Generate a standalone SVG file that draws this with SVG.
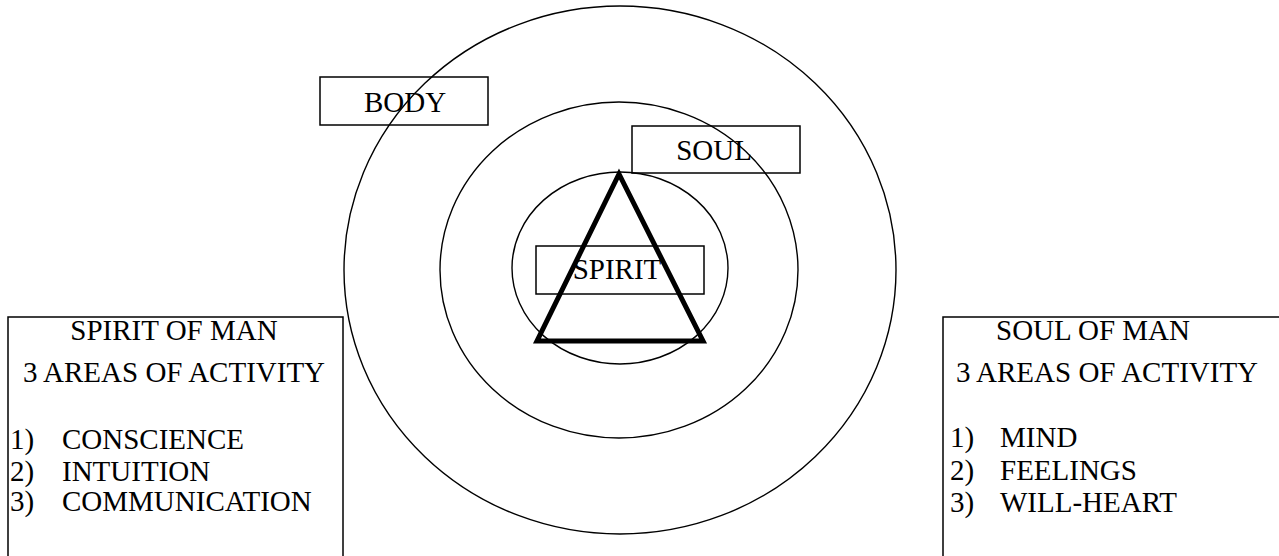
<svg xmlns="http://www.w3.org/2000/svg" width="1279" height="556" viewBox="0 0 1279 556" font-family="Liberation Serif, DejaVu Serif, serif" font-size="29">
<style>
.c{text-anchor:middle}
.box{fill:none;stroke:#000;stroke-width:1.5}
.ring{fill:none;stroke:#000;stroke-width:1.4}
</style>
<rect x="0" y="0" width="1279" height="556" fill="#fff"/>
<g id="body">
<rect class="box" x="320" y="77" width="168" height="48"/>
<text class="c" x="405" y="112">BODY</text>
</g>
<g id="soul">
<rect class="box" x="632" y="126" width="168" height="47"/>
<text class="c" x="714" y="160">SOUL</text>
</g>
<g id="spirit">
<rect class="box" x="536" y="246" width="168" height="48"/>
<text class="c" x="617" y="279">SPIRIT</text>
</g>
<g id="rings">
<ellipse class="ring" cx="620" cy="270" rx="276" ry="264"/>
<ellipse class="ring" cx="619" cy="270" rx="179" ry="168"/>
<ellipse class="ring" cx="620" cy="268" rx="108" ry="96"/>
</g>
<g id="triangle">
<polygon points="619,174 537,341 703,341" fill="none" stroke="#000" stroke-width="5" stroke-linejoin="miter"/>
</g>
<g id="spirit-of-man">
<rect class="box" x="8" y="317" width="335" height="260"/>
<text class="c" x="174" y="340">SPIRIT OF MAN</text>
<text class="c" x="174" y="382">3 AREAS OF ACTIVITY</text>
<text x="10" y="449">1)</text><text x="62" y="449">CONSCIENCE</text>
<text x="10" y="481">2)</text><text x="62" y="481">INTUITION</text>
<text x="10" y="511">3)</text><text x="62" y="511">COMMUNICATION</text>
</g>
<g id="soul-of-man">
<rect class="box" x="943" y="317" width="350" height="260"/>
<text class="c" x="1093" y="340">SOUL OF MAN</text>
<text class="c" x="1107" y="382">3 AREAS OF ACTIVITY</text>
<text x="950" y="447">1)</text><text x="1000" y="447">MIND</text>
<text x="950" y="480">2)</text><text x="1000" y="480">FEELINGS</text>
<text x="950" y="512">3)</text><text x="1000" y="512">WILL-HEART</text>
</g>
</svg>
